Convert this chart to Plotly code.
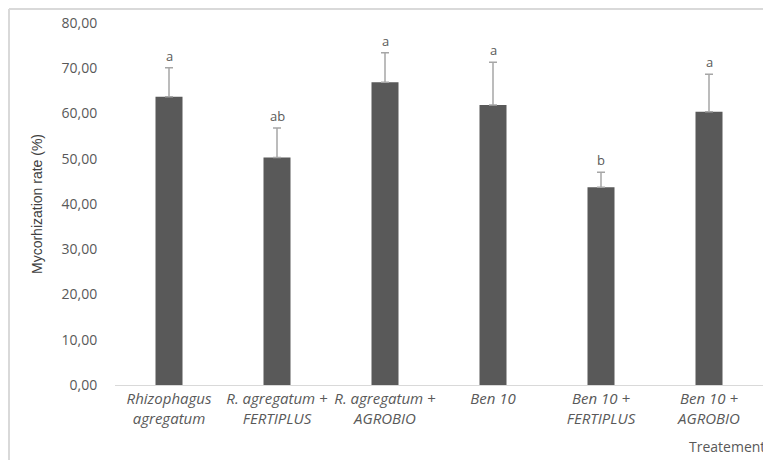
import plotly.graph_objects as go

categories = [
    "<i>Rhizophagus</i><br><i>agregatum</i>",
    "<i>R. agregatum +</i><br><i>FERTIPLUS</i>",
    "<i>R. agregatum +</i><br><i>AGROBIO</i>",
    "<i>Ben 10</i>",
    "<i>Ben 10 +</i><br><i>FERTIPLUS</i>",
    "<i>Ben 10 +</i><br><i>AGROBIO</i>",
]
values = [63.7, 50.3, 66.9, 61.9, 43.7, 60.4]
errors = [6.4, 6.5, 6.5, 9.4, 3.3, 8.3]
letters = ["a", "ab", "a", "a", "b", "a"]
y_ticks = [0, 10, 20, 30, 40, 50, 60, 70, 80]

# figure geometry (page body adds an 8px offset)
W, H = 763, 453
L, R, T, B = 107, 8, 15, 76
PW, PH = W - L - R, H - T - B

fig = go.Figure()
fig.add_trace(go.Bar(
    x=categories, y=values,
    marker=dict(color="#595959", line=dict(width=0)),
    error_y=dict(type="data", array=errors, symmetric=False, arrayminus=[0]*6,
                 color="#a6a6a6", thickness=1.5, width=4),
))

for c, v, e, l in zip(categories, values, errors, letters):
    fig.add_annotation(x=c, y=v + e, text=l, showarrow=False, yanchor="bottom",
                       yshift=1, font=dict(family="Open Sans", size=13, color="#595959"))

fig.add_annotation(xref="paper", yref="paper", x=(759 - L) / PW, y=(T + PH - 438) / PH,
                   xanchor="right", yanchor="middle",
                   text="Treatement", showarrow=False,
                   font=dict(family="Open Sans", size=14, color="#595959"))

# outer chart border (top and left edges visible)
bx0 = (1 - L) / PW
by1 = (T + PH - 1) / PH
fig.add_shape(type="line", xref="paper", yref="paper", x0=bx0, x1=(W - 1 - L) / PW,
              y0=by1, y1=by1, line=dict(color="#d9d9d9", width=2))
fig.add_shape(type="line", xref="paper", yref="paper", x0=bx0, x1=bx0,
              y0=-(B - 1) / PH, y1=by1, line=dict(color="#d9d9d9", width=2))

fig.update_layout(
    width=W, height=H,
    margin=dict(l=L, r=R, t=T, b=B, autoexpand=False),
    paper_bgcolor="white", plot_bgcolor="white",
    bargap=0.75,
    showlegend=False,
    separators=",.",
    font=dict(family="Open Sans", color="#595959"),
)
fig.update_xaxes(showline=True, linecolor="#d9d9d9", linewidth=1, ticks="", automargin=False,
                 tickfont=dict(family="Open Sans", size=15, color="#595959"))
fig.update_yaxes(range=[0, 80], tickvals=y_ticks, tickformat=".2f", showgrid=False,
                 zeroline=False, showline=False, ticks="outside", ticklen=14, tickcolor="white",
                 automargin=False,
                 tickfont=dict(family="Open Sans", size=14, color="#595959"),
                 title=dict(text="Mycorhization rate (%)", standoff=15,
                            font=dict(family="Liberation Sans Narrow, Liberation Sans", size=14, color="#404040")))

fig.write_html("out.html")
